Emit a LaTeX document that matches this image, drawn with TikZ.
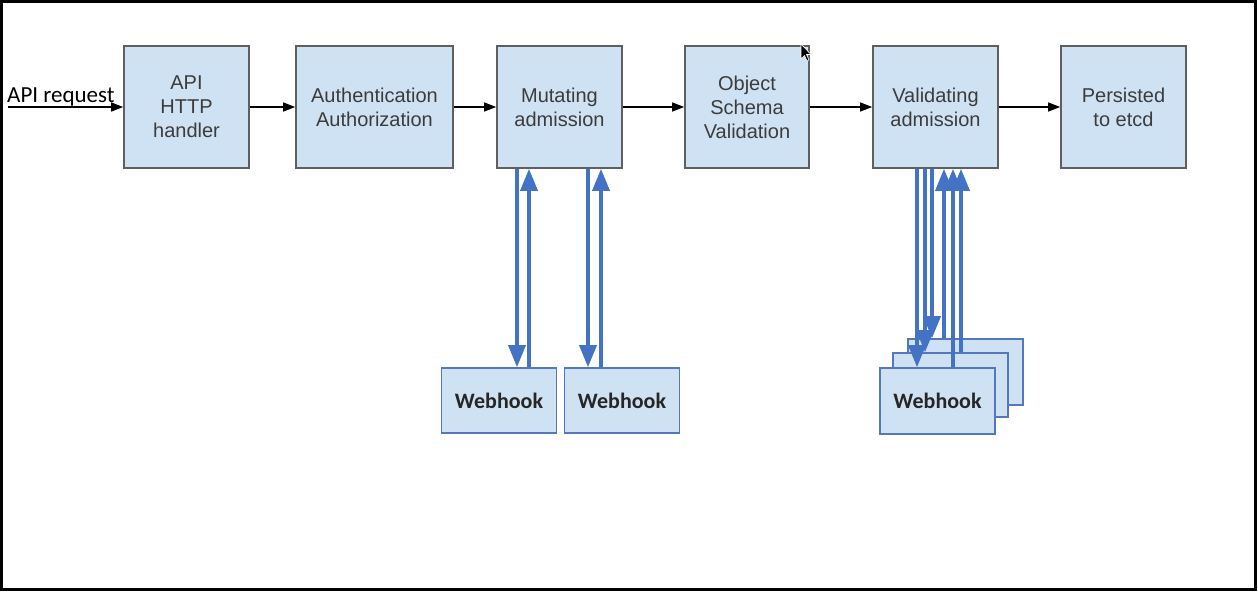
\documentclass[tikz,border=0pt]{standalone}
\usepackage{fontspec}
\setmainfont{Liberation Sans}
\newfontfamily\carl{Carlito}
\usetikzlibrary{arrows.meta,calc}
\definecolor{boxfill}{RGB}{207,226,243}
\definecolor{boxline}{RGB}{95,95,95}
\definecolor{whline}{RGB}{84,120,190}
\definecolor{arrblue}{RGB}{68,114,196}
\definecolor{txtgray}{RGB}{60,60,60}
\begin{document}
\begin{tikzpicture}[x=1pt,y=-1pt,
  stage/.style={draw=boxline,line width=1.6pt,fill=boxfill,minimum height=122pt,
    align=center,text=txtgray,font=\fontsize{20}{24}\selectfont,inner sep=0pt},
  hook/.style={draw=whline,line width=1.6pt,fill=boxfill,minimum width=115pt,minimum height=65pt,
    text=black!85,font=\carl\bfseries\fontsize{22}{26}\selectfont,inner sep=0pt},
  flow/.style={line width=1.2pt,-{Triangle[length=12pt,width=9pt]}},
  call/.style={draw=arrblue,line width=3.4pt,-{Triangle[length=22pt,width=17pt]},color=arrblue}]
\useasboundingbox (0,0) rectangle (1258,592);
\fill[white] (0,0) rectangle (1258,592);
\draw[line width=3pt] (1.5,1.5) rectangle (1255.5,589.5);

% top row
\node[stage,minimum width=125pt] (api) at (186.5,107) {API\\HTTP\\handler};
\node[stage,minimum width=157pt] (auth) at (374.5,107) {Authentication\\Authorization};
\node[stage,minimum width=125pt] (mut) at (559.5,107) {Mutating\\admission};
\node[stage,minimum width=124pt] (obj) at (747,107) {Object\\Schema\\Validation};
\node[stage,minimum width=125pt] (val) at (935.5,107) {Validating\\admission};
\node[stage,minimum width=125pt] (etcd) at (1123.5,107) {Persisted\\to etcd};

\coordinate (start) at (8,107);
\node[anchor=base west,inner sep=0pt,font=\carl\fontsize{23}{27}\selectfont] (req) at (7,102) {API request};
\draw[flow] (start) -- (api.west);
\draw[flow] (api) -- (auth);
\draw[flow] (auth) -- (mut);
\draw[flow] (mut) -- (obj);
\draw[flow] (obj) -- (val);
\draw[flow] (val) -- (etcd);

% mutating webhooks
\node[hook] (wh1) at (499,400.5) {Webhook};
\node[hook] (wh2) at (622,400.5) {Webhook};
\draw[call] ([xshift=-42.5pt]mut.south) -- ([xshift=-42.5pt]mut.south |- wh1.north);
\draw[call] ([xshift=-30.5pt]mut.south |- wh1.north) -- ([xshift=-30.5pt]mut.south);
\draw[call] ([xshift=28.5pt]mut.south) -- ([xshift=28.5pt]mut.south |- wh2.north);
\draw[call] ([xshift=41.5pt]mut.south |- wh2.north) -- ([xshift=41.5pt]mut.south);

% validating webhooks (stack)
\node[hook,minimum height=66pt] (whc) at (965.5,372) {};
\draw[call] ([xshift=-3.5pt]val.south) -- ([xshift=-3.5pt]val.south |- whc.north);
\draw[call] ([xshift=8.5pt]val.south |- whc.north) -- ([xshift=8.5pt]val.south);
\node[hook,minimum height=64pt] (whb) at (950.5,385) {};
\draw[call] ([xshift=-10.5pt]val.south) -- ([xshift=-10.5pt]val.south |- whb.north);
\draw[call] ([xshift=25.5pt]val.south |- whb.north) -- ([xshift=25.5pt]val.south);
\node[hook,minimum height=66pt] (wha) at (937.5,401) {Webhook};
\draw[call] ([xshift=-18.5pt]val.south) -- ([xshift=-18.5pt]val.south |- wha.north);
\draw[call] ([xshift=17.5pt]val.south |- wha.north) -- ([xshift=17.5pt]val.south);

% mouse pointer
\filldraw[fill=black,draw=white,line width=0.6pt]
  (801,44) -- (801,59) -- (804.5,55.5) -- (807,61) -- (809,60) -- (806.5,54.5) -- (811,54.5) -- cycle;
\end{tikzpicture}
\end{document}
